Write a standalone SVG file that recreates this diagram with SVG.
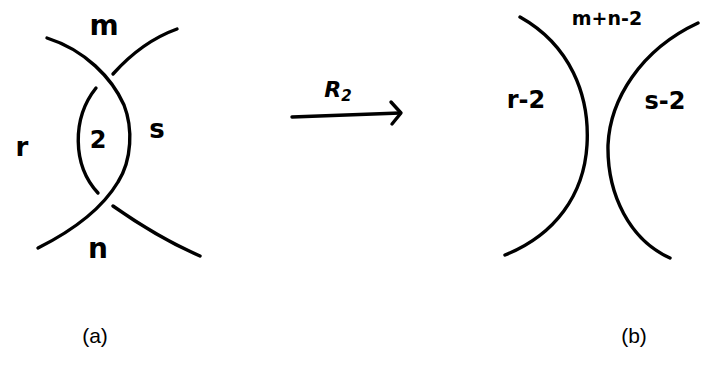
<svg xmlns="http://www.w3.org/2000/svg" width="721" height="367" viewBox="0 0 721 367">
<defs>
<style>
.c{fill:none;stroke:#000;stroke-width:3.4;stroke-linecap:round;stroke-linejoin:round}
.h{font-family:"DejaVu Sans","Liberation Sans",sans-serif;font-weight:bold;fill:#000;text-anchor:middle}
.cap{font-family:"Liberation Sans",Arial,sans-serif;font-size:21px;fill:#000;text-anchor:middle}
</style>
</defs>
<rect width="721" height="367" fill="#fff"/>
<g id="diagram-a">
<path class="c" d="M47,38 C85,50 112,78 124,105 C133,128 132,160 118,182 C100,212 70,232 38,248"/>
<path class="c" d="M113,74 C130,55 152,38 177,29"/>
<path class="c" d="M113,206 C140,225 170,243 200,256"/>
<path class="c" d="M96,88 C72,118 72,165 98,193"/>
<text class="h" x="104" y="35" font-size="28">m</text>
<text class="h" x="22" y="156" font-size="26">r</text>
<text class="h" x="98" y="148" font-size="24">2</text>
<text class="h" x="157" y="138" font-size="26">s</text>
<text class="h" x="98" y="258" font-size="28">n</text>
</g>
<g id="connectors">
<path class="c" d="M292,117 L400,113"/>
<path class="c" d="M391,102 L401,113 L392,124"/>
<text class="h" x="338" y="97" font-size="22" font-style="italic">R<tspan font-size="15" dy="4">2</tspan></text>
</g>
<g id="diagram-b">
<path class="c" d="M520,17 C570,45 590,95 587,145 C584,195 555,235 505,255"/>
<path class="c" d="M698,23 C640,50 610,100 608,145 C607,195 630,240 670,258"/>
<text class="h" x="607" y="25" font-size="19">m+n-2</text>
<text class="h" x="526" y="108" font-size="24">r-2</text>
<text class="h" x="665" y="109" font-size="24" text-anchor="start">s-2</text>
</g>
<g id="captions">
<text class="cap" x="95" y="343">(a)</text>
<text class="cap" x="634" y="343">(b)</text>
</g>
</svg>
